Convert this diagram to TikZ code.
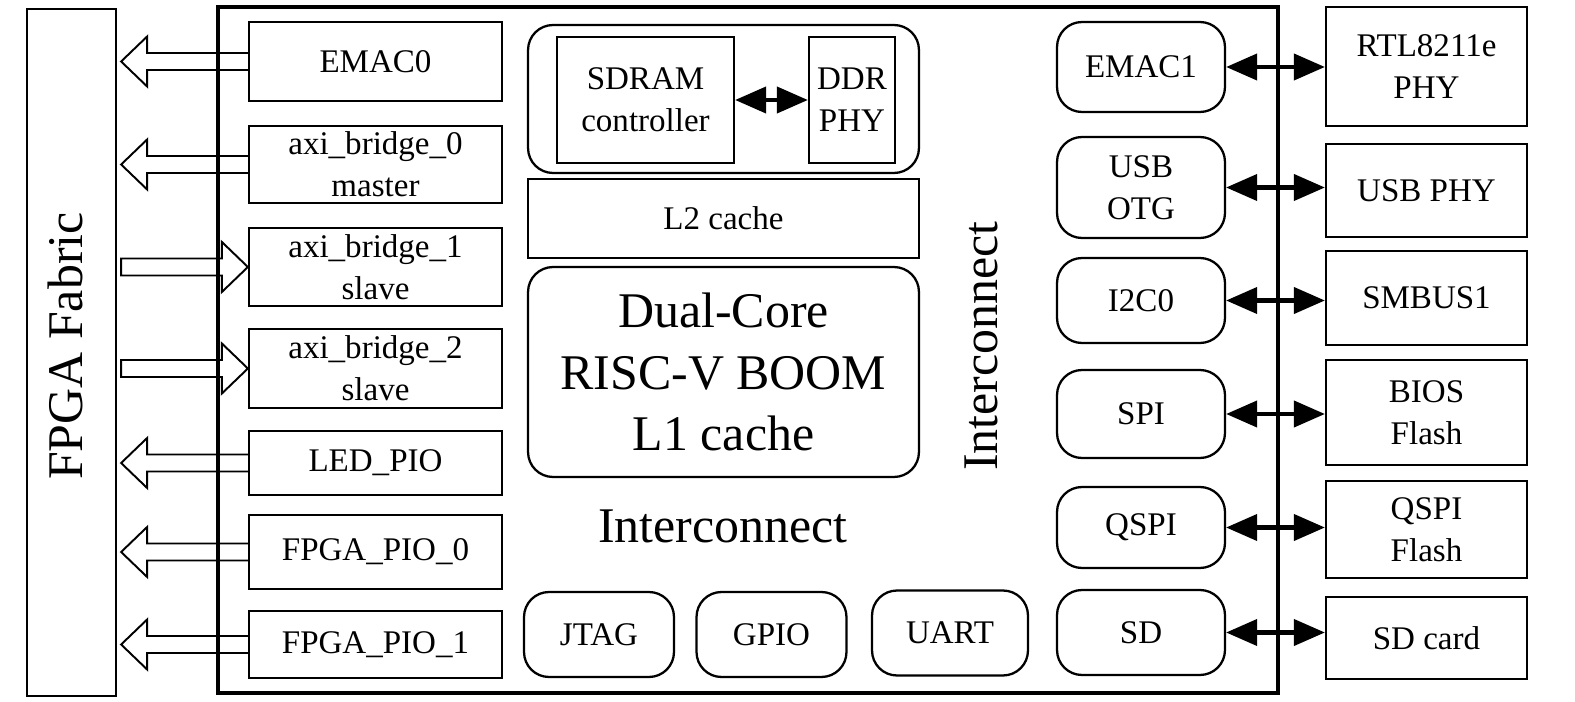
\documentclass[tikz,border=0pt]{standalone}
\usepackage{fontspec}
\setmainfont{Liberation Serif}
\usepackage{tikz}
\usetikzlibrary{positioning,arrows.meta,calc}

\begin{document}
\begin{tikzpicture}[
  x=0.02cm, y=-0.02cm,
  font=\fontsize{18.8}{24}\selectfont,
  box/.style={draw, line width=1.3pt, align=center, inner sep=2pt},
  rbox/.style={box, rounded corners=0.5cm},
  lbox/.style={box, minimum width=5.06cm},
  pbox/.style={rbox, minimum width=3.36cm},
  bbox/.style={rbox, minimum width=3cm, minimum height=1.7cm},
  xbox/.style={box, minimum width=4.02cm},
  big/.style={font=\fontsize{28.4}{35}\selectfont},
  blk/.style={draw, line width=1.1pt, fill=white, line join=miter},
  bus/.style={line width=2.3pt, {Triangle[length=0.62cm,width=0.52cm]}-{Triangle[length=0.62cm,width=0.52cm]}},
]
\useasboundingbox (0,0) rectangle (1575,702);

\node[box, minimum width=1.78cm, minimum height=13.74cm] (fab) at (71.5,352.5) {};
\node[big, rotate=90] (fablbl) at (65,346) {FPGA Fabric};

\node[lbox, minimum height=1.58cm] (emac0) at (375.5,61.5)  {EMAC0};
\node[lbox, minimum height=1.54cm] (axi0)  at (375.5,164.5) {axi\_bridge\_0\\master};
\node[lbox, minimum height=1.56cm] (axi1)  at (375.5,267)   {axi\_bridge\_1\\slave};
\node[lbox, minimum height=1.58cm] (axi2)  at (375.5,368.5) {axi\_bridge\_2\\slave};
\node[lbox, minimum height=1.28cm] (led)   at (375.5,463)   {LED\_PIO};
\node[lbox, minimum height=1.48cm] (pio0)  at (375.5,552)   {FPGA\_PIO\_0};
\node[lbox, minimum height=1.34cm] (pio1)  at (375.5,644.5) {FPGA\_PIO\_1};

\foreach \n in {emac0,axi0,led,pio0,pio1}
  \draw[blk] ($(\n.west)+(0,-8.5)$) -- ($(fab.east|-\n.west)+(30,-8.5)$)
    -- ($(fab.east|-\n.west)+(30,-25)$) -- ($(fab.east|-\n.west)+(4,0)$)
    -- ($(fab.east|-\n.west)+(30,25)$) -- ($(fab.east|-\n.west)+(30,8.5)$)
    -- ($(\n.west)+(0,8.5)$);
\foreach \n in {axi1,axi2}
  \draw[blk] ($(fab.east|-\n.west)+(4,-8.5)$) -- ($(\n.west)+(-26,-8.5)$)
    -- ($(\n.west)+(-26,-25)$) -- (\n.west) -- ($(\n.west)+(-26,25)$)
    -- ($(\n.west)+(-26,8.5)$) -- ($(fab.east|-\n.west)+(4,8.5)$) -- cycle;

\node[draw, line width=2.2pt, minimum width=21.2cm, minimum height=13.72cm] (soc) at (748,350) {};

\node[rbox, minimum width=7.82cm, minimum height=2.96cm] (mem) at (723.5,99) {};
\node[box, minimum width=3.54cm, minimum height=2.52cm] (sdram) at (645.5,100) {SDRAM\\controller};
\node[box, minimum width=1.72cm, minimum height=2.52cm] (ddr) at (852,100) {DDR\\PHY};
\draw[bus] (sdram) -- (ddr);
\node[box, minimum width=7.82cm, minimum height=1.58cm] (l2) at (723.5,218.5) {L2 cache};
\node[rbox, big, minimum width=7.82cm, minimum height=4.2cm] (core) at (723.5,372) {Dual-Core\\RISC-V BOOM\\L1 cache};

\node[big] (icx) at (723,526) {Interconnect};
\node[big, rotate=90] (icy) at (981,346) {Interconnect};

\node[bbox] (jtag) at (599,634.5) {JTAG};
\node[bbox] (gpio) at (771.5,634.5) {GPIO};
\node[bbox, minimum width=3.12cm] (uart) at (950,633) {UART};

\node[pbox, minimum height=1.8cm]  (emac1)  at (1141,67)    {EMAC1};
\node[pbox, minimum height=2.02cm] (usbotg) at (1141,187.5) {USB\\OTG};
\node[pbox, minimum height=1.7cm]  (i2c)    at (1141,300.5) {I2C0};
\node[pbox, minimum height=1.76cm] (spi)    at (1141,414)   {SPI};
\node[pbox, minimum height=1.62cm] (qspi)   at (1141,527.5) {QSPI};
\node[pbox, minimum height=1.7cm]  (sd)     at (1141,632.5) {SD};

\node[xbox, minimum height=2.38cm] (rtl)    at (1426.5,66.5)  {RTL8211e\\PHY};
\node[xbox, minimum height=1.86cm] (usbphy) at (1426.5,190.5) {USB PHY};
\node[xbox, minimum height=1.88cm] (smbus)  at (1426.5,298)   {SMBUS1};
\node[xbox, minimum height=2.1cm]  (bios)   at (1426.5,412.5) {BIOS\\Flash};
\node[xbox, minimum height=1.94cm] (qflash) at (1426.5,529.5) {QSPI\\Flash};
\node[xbox, minimum height=1.64cm] (sdcard) at (1426.5,638)   {SD card};

\foreach \a/\b in {emac1/rtl, usbotg/usbphy, i2c/smbus, spi/bios, qspi/qflash, sd/sdcard}
  \draw[bus] (\a.east) -- (\b.west |- \a.east);
\end{tikzpicture}
\end{document}
